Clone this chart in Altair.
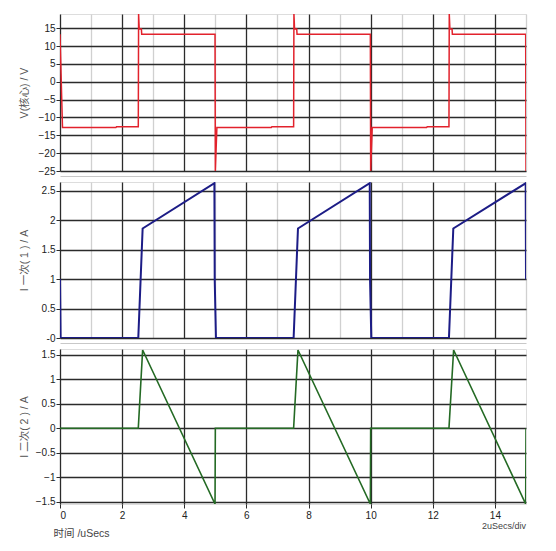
import altair as alt
import pandas as pd

# ---------------- data ----------------
# Panel 1: core voltage V(核心) / V
v_time = [0.00, 0.08, 1.80, 1.82, 2.52, 2.53, 2.55, 2.62, 2.63, 4.99, 5.00,
          5.05, 6.80, 6.82, 7.52, 7.53, 7.55, 7.62, 7.63, 9.99, 10.00,
          10.05, 11.80, 11.82, 12.52, 12.53, 12.55, 12.62, 12.63, 14.99, 15.00]
v_val = [13.3, -12.8, -12.8, -12.6, -12.6, 19.0, 14.8, 14.8, 13.3, 13.3, -25.0,
         -12.8, -12.8, -12.6, -12.6, 19.0, 14.8, 14.8, 13.3, 13.3, -25.0,
         -12.8, -12.8, -12.6, -12.6, 19.0, 14.8, 14.8, 13.3, 13.3, -25.0]

# Panel 2: primary current / A
i1_time = [0.00, 0.02, 2.52, 2.66, 4.97, 4.98, 5.02, 7.52, 7.66, 9.97, 9.98,
           10.02, 12.52, 12.66, 14.99, 15.00]
i1_val = [1.0, 0.0, 0.0, 1.86, 2.63, 1.0, 0.0, 0.0, 1.86, 2.63, 1.0,
          0.0, 0.0, 1.86, 2.63, 1.0]

# Panel 3: secondary current / A
i2_time = [0.00, 2.52, 2.66, 4.99, 5.00, 7.52, 7.66, 9.99, 10.00, 12.52,
           12.67, 14.99, 15.00]
i2_val = [0.0, 0.0, 1.6, -1.55, 0.0, 0.0, 1.6, -1.55, 0.0, 0.0,
          1.6, -1.55, 0.0]

x_ticks = list(range(0, 16))
v_ticks = [-25, -20, -15, -10, -5, 0, 5, 10, 15]
i1_ticks = [0, 0.5, 1, 1.5, 2, 2.5]
i2_ticks = [-1.5, -1, -0.5, 0, 0.5, 1, 1.5]

titles = ["V(核心) / V", "I  一次( 1  ) / A", "I  二次( 2  ) / A"]
x_title = "时间  /uSecs"
div_text = ["2uSecs/div"]

# ---------------- styling ----------------
W = 466
FONT = "Liberation Sans, Noto Sans CJK SC"
DARK = "#2b2b2b"
LIGHT = "#d0d0d0"
grid_color = {"condition": {"test": "datum.value % 2 === 0", "value": DARK},
              "value": LIGHT}
tick_color = {"condition": {"test": "datum.value % 2 === 0", "value": DARK},
              "value": "transparent"}


def y_axis(title, values, label_expr="datum.label"):
    return alt.Axis(title=title, values=values, grid=True, gridColor=DARK,
                    gridWidth=1.3, domain=False, tickSize=4, tickColor=DARK,
                    format="~g", labelExpr=label_expr,
                    labelPadding=1, labelFontSize=10, labelColor="#222",
                    labelFont=FONT, titleFont=FONT, titleFontSize=10.5,
                    titleFontWeight="normal", titleColor="#555",
                    minExtent=20, maxExtent=20, titlePadding=11)


def x_axis_hidden():
    return alt.Axis(title=None, values=x_ticks, labels=False, ticks=False,
                    grid=True, gridColor=grid_color, gridWidth=1.3,
                    domain=True, domainColor="#c8c8c8", domainWidth=1,
                    offset=5)


def x_axis_bottom():
    return alt.Axis(title=x_title, values=x_ticks, grid=True,
                    gridColor=grid_color, gridWidth=1.3, domain=False,
                    tickColor=tick_color, tickSize=4,
                    labelExpr="datum.value % 2 === 0 ? datum.label : ''",
                    labelFontSize=10, labelColor="#222", labelFont=FONT,
                    labelPadding=2,
                    titleFont=FONT, titleFontSize=10.5,
                    titleFontWeight="normal", titleColor="#444",
                    titleAnchor="start", titleAlign="left", titleX=-7,
                    titleY=24)


def panel(times, vals, color, width_px, ydom, yax, xax, height):
    df = pd.DataFrame({"t": times, "v": vals})
    return alt.Chart(df).mark_line(color=color, strokeWidth=width_px,
                                   clip=True).encode(
        x=alt.X("t:Q", scale=alt.Scale(domain=[0, 15], nice=False,
                                       zero=False), axis=xax),
        y=alt.Y("v:Q", scale=alt.Scale(domain=ydom, nice=False, zero=False),
                axis=yax),
    ).properties(width=W, height=height)


p1 = panel(v_time, v_val, "#e2222c", 1.5, [-25, 19],
           y_axis(titles[0], v_ticks), x_axis_hidden(), 157)
p2 = panel(i1_time, i1_val, "#1c1c86", 2, [0, 2.65],
           y_axis(titles[1], i1_ticks,
                  "datum.value === 0 ? '-0' : datum.label"),
           x_axis_hidden(), 156)
p3_line = panel(i2_time, i2_val, "#246a24", 1.6, [-1.55, 1.62],
                y_axis(titles[2], i2_ticks), x_axis_bottom(), 155)

div_df = pd.DataFrame({"t": [15.0], "label": div_text})
p3_text = alt.Chart(div_df).mark_text(
    align="right", baseline="alphabetic", fontSize=9, font=FONT,
    color="#444").encode(
    x=alt.X("t:Q", scale=alt.Scale(domain=[0, 15], nice=False, zero=False)),
    y=alt.value(180),
    text="label:N",
)
p3 = alt.layer(p3_line, p3_text)

chart = alt.vconcat(p1, p2, p3, spacing=4).properties(
    padding={"left": 10, "top": 5, "right": 5, "bottom": 5}
).configure_view(stroke=None).configure(background="white")

chart.save("out.html", embed_options={"renderer": "svg", "actions": False})
